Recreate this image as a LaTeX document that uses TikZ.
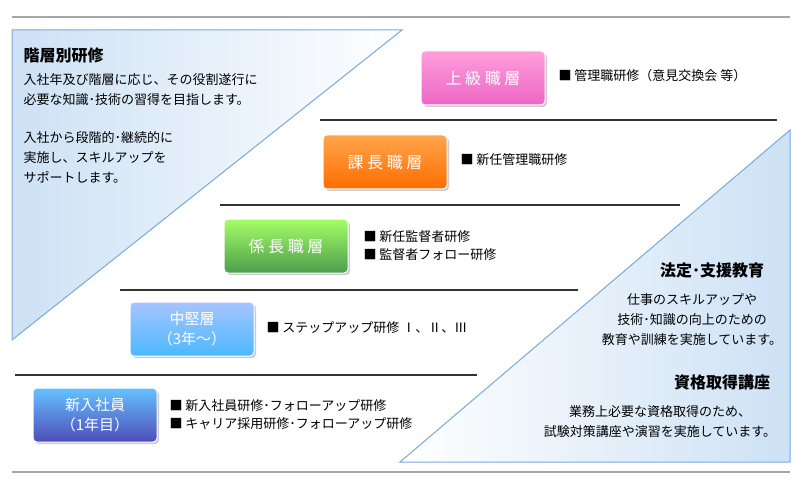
\documentclass[tikz,border=0pt]{standalone}
\usepackage{fontspec}
\setmainfont{Noto Sans CJK JP}
\usetikzlibrary{shadows}
\definecolor{tri}{RGB}{120,170,220}
\definecolor{trifill}{RGB}{205,225,245}
\tikzset{
 btn/.style={rounded corners=4pt,minimum width=124pt,minimum height=54pt,text=white,font=\fontsize{16}{19}\selectfont,align=center,draw=white,line width=1pt,drop shadow={shadow xshift=2pt,shadow yshift=-2pt,opacity=.4}},
 item/.style={anchor=west,font=\fontsize{13}{18}\selectfont,align=left},
 sep/.style={line width=1.2pt,black!80},
 body/.style={font=\fontsize{13}{20}\selectfont,align=left,anchor=north west},
 bodyr/.style={font=\fontsize{13}{20}\selectfont,align=center},
 head/.style={font=\fontsize{16}{19}\selectfont\bfseries}
}
\begin{document}
\begin{tikzpicture}[x=1pt,y=-1pt]
\useasboundingbox (0,0) rectangle (800,489);
\fill[white] (0,0) rectangle (800,489);
\draw[line width=2pt,gray!70] (12,17) -- (790,17);
\draw[line width=2pt,gray!70] (12,472) -- (790,472);
% triangles
\shade[left color=trifill,right color=white,draw=tri,line width=1pt] (12,30) -- (402,30) -- (12,340) -- cycle;
\shade[left color=white,right color=trifill,draw=tri,line width=1pt] (400,462) -- (790,130) -- (790,462) -- cycle;
% separators
\draw[sep] (320,120) -- (777,120);
\draw[sep] (220,205) -- (680,205);
\draw[sep] (120,290) -- (578,290);
\draw[sep] (15,375) -- (477,375);
% buttons
\node[btn,top color=magenta!30!pink!80,bottom color=magenta!50!purple!60] (b1) at (483,78) {上 級 職 層};
\node[btn,top color=orange!70,bottom color=orange!85!red] (b2) at (385,162) {課 長 職 層};
\node[btn,top color=green!45!lime!60,bottom color=green!45!black!70] (b3) at (286,246) {係 長 職 層};
\node[btn,top color=cyan!35!blue!35,bottom color=cyan!60!blue!70,font=\fontsize{15}{20}\selectfont] (b4) at (192,329) {中堅層\\（3年～）};
\node[btn,top color=blue!40!cyan!60,bottom color=blue!60!black!70,font=\fontsize{15}{20}\selectfont] (b5) at (95,415) {新入社員\\（1年目）};
% items
\node[item] (i1) at (555,76) {■ 管理職研修（意見交換会 等）};
\node[item] (i2) at (457,160) {■ 新任管理職研修};
\node[item] (i3) at (360,246) {■ 新任監督者研修\\■ 監督者フォロー研修};
\node[item] (i4) at (263,328) {■ ステップアップ研修 Ⅰ、Ⅱ、Ⅲ};
\node[item] (i5) at (166,415) {■ 新入社員研修･フォローアップ研修\\■ キャリア採用研修･フォローアップ研修};
% left text
\node[head,anchor=north west] (h1) at (20,44) {階層別研修};
\node[body] (t1) at (20,70) {入社年及び階層に応じ、その役割遂行に\\必要な知識･技術の習得を目指します。};
\node[body] (t2) at (20,128) {入社から段階的･継続的に\\実施し、スキルアップを\\サポートします。};
% right text
\node[head] (h2) at (712,270) {法定･支援教育};
\node[bodyr] (t3) at (692,320) {仕事のスキルアップや\\技術･知識の向上のための\\教育や訓練を実施しています。};
\node[head] (h3) at (722,382) {資格取得講座};
\node[bodyr] (t4) at (660,422) {業務上必要な資格取得のため、\\試験対策講座や演習を実施しています。};
\end{tikzpicture}
\end{document}
